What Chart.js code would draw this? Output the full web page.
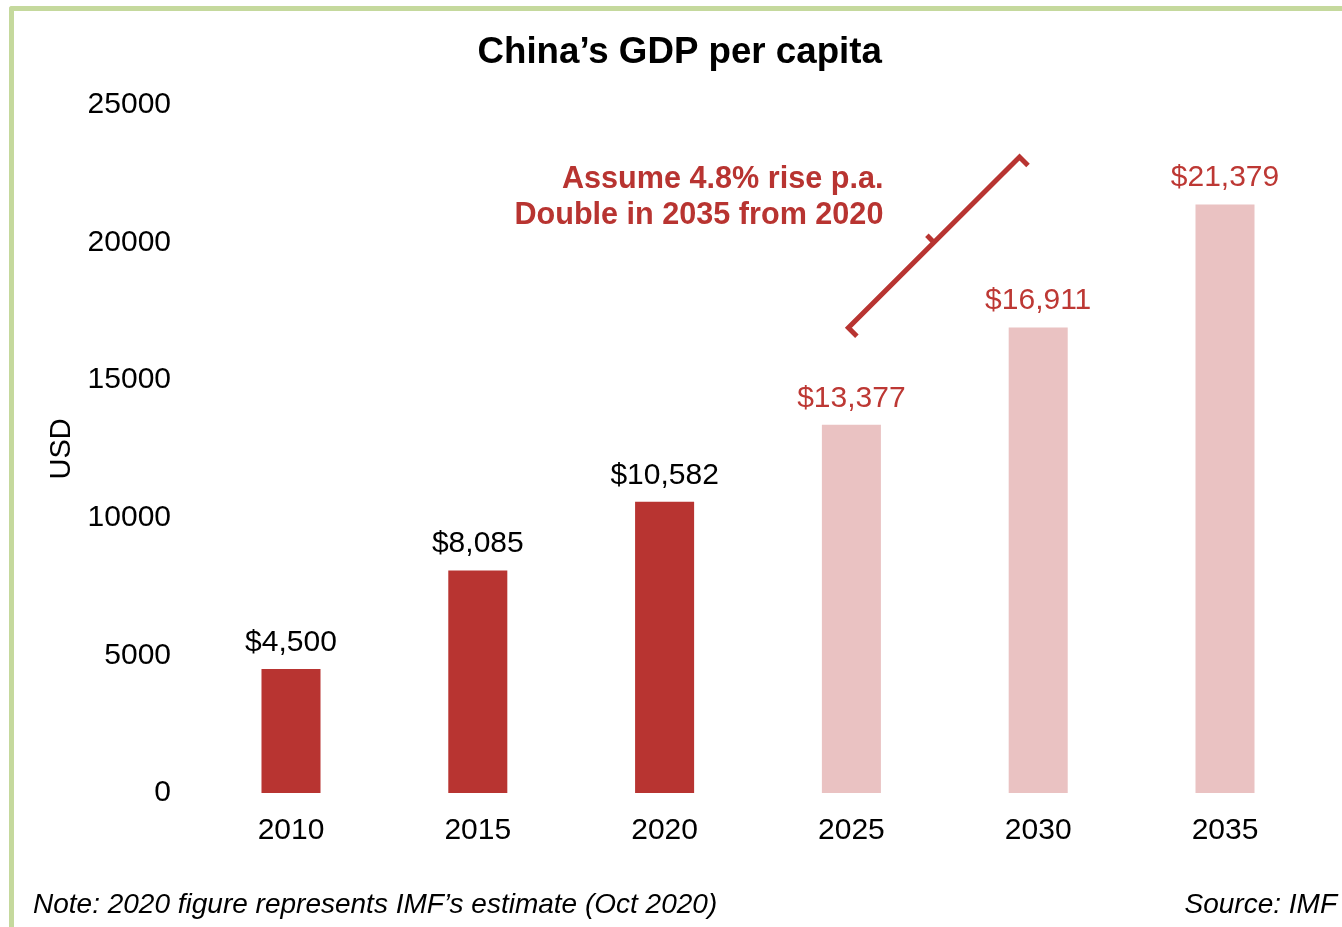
<!DOCTYPE html>
<html><head><meta charset="utf-8">
<script src="https://cdn.jsdelivr.net/npm/chart.js@4.4.1/dist/chart.umd.min.js"></script>
<style>
html,body{margin:0;padding:0;background:#fff;}
#wrap{position:relative;width:1342px;height:927px;overflow:hidden;}
#frame{position:absolute;left:9px;top:6px;width:1400px;height:1000px;border-top:5px solid #c5d99d;border-left:5px solid #c5d99d;border-top-left-radius:3px;}
canvas{position:absolute;left:0;top:0;}
.note{position:absolute;font-family:'Liberation Sans',Arial,sans-serif;font-style:italic;font-size:28px;color:#000;top:888px;line-height:32px;white-space:nowrap;}
</style></head>
<body><div id="wrap"><div id="frame"></div><canvas id="c" width="1342" height="927"></canvas>
<div class="note" style="left:33px">Note: 2020 figure represents IMF’s estimate (Oct 2020)</div>
<div class="note" style="right:5px">Source: IMF</div>
</div>
<script>
// ---- data ----
const years = ['2010', '2015', '2020', '2025', '2030', '2035'];
const gdpPerCapita = [4500, 8085, 10582, 13377, 16911, 21379];
const valueLabels = ['$4,500', '$8,085', '$10,582', '$13,377', '$16,911', '$21,379'];
const isProjection = [false, false, false, true, true, true];
const yTicks = [0, 5000, 10000, 15000, 20000, 25000];
const annotationLines = ['Assume 4.8% rise p.a.', 'Double in 2035 from 2020'];

const FONT = "'Liberation Sans', Arial, sans-serif";
const DARK = '#b83431';
const LIGHT = '#eac2c2';
const RED_TEXT = '#bd3834';

const labelsPlugin = {
  id: 'valueLabels',
  afterDatasetsDraw(chart) {
    const ctx = chart.ctx;
    const meta = chart.getDatasetMeta(0);
    ctx.save();
    ctx.font = '30px ' + FONT;
    ctx.textAlign = 'center';
    ctx.textBaseline = 'alphabetic';
    meta.data.forEach((bar, i) => {
      ctx.fillStyle = isProjection[i] ? RED_TEXT : '#000';
      ctx.fillText(valueLabels[i], bar.x, bar.y - 18);
    });
    // annotation
    const xs = chart.scales.x, ys = chart.scales.y;
    const x3 = xs.getPixelForValue(3), x4 = xs.getPixelForValue(4);
    ctx.font = 'bold 30.6px ' + FONT;
    ctx.textAlign = 'right';
    ctx.textBaseline = 'middle';
    ctx.fillStyle = DARK;
    ctx.fillText(annotationLines[0], x3 + 32, ys.getPixelForValue(22300));
    ctx.fillText(annotationLines[1], x3 + 32, ys.getPixelForValue(20990));
    // bracket
    const ax = x3 - 3, ay = ys.getPixelForValue(16900);
    const bx = x3 + (x4 - x3) * 0.9, by = ys.getPixelForValue(23100);
    const dx = bx - ax, dy = by - ay, len = Math.hypot(dx, dy);
    const nx = -dy / len, ny = dx / len;
    const px = nx > 0 ? nx : -nx, py = nx > 0 ? ny : -ny;
    ctx.strokeStyle = DARK;
    ctx.lineWidth = 5;
    ctx.lineCap = 'butt';
    ctx.lineJoin = 'miter';
    ctx.beginPath();
    ctx.moveTo(ax + px * 12, ay + py * 12);
    ctx.lineTo(ax, ay);
    ctx.lineTo(bx, by);
    ctx.lineTo(bx + px * 12, by + py * 12);
    ctx.stroke();
    const mx = (ax + bx) / 2, my = (ay + by) / 2;
    ctx.beginPath();
    ctx.moveTo(mx, my);
    ctx.lineTo(mx - px * 10, my - py * 10);
    ctx.stroke();
    ctx.restore();
  }
};

new Chart(document.getElementById('c'), {
  type: 'bar',
  data: {
    labels: years,
    datasets: [{
      data: gdpPerCapita,
      backgroundColor: isProjection.map(p => p ? LIGHT : DARK),
      borderWidth: 0,
      categoryPercentage: 1,
      barPercentage: 0.316
    }]
  },
  options: {
    responsive: false,
    animation: false,
    devicePixelRatio: 1,
    layout: { padding: { left: 41, right: 23.6, top: 0, bottom: 74 } },
    plugins: {
      legend: { display: false },
      tooltip: { enabled: false },
      title: {
        display: true,
        text: 'China’s GDP per capita',
        color: '#000',
        font: { family: FONT, size: 36.7, weight: 'bold' },
        padding: { top: 30.5, bottom: 30.2 }
      }
    },
    scales: {
      x: {
        grid: { display: false, drawTicks: false },
        border: { display: false },
        ticks: { color: '#000', font: { family: FONT, size: 30 }, padding: 20 },
        afterFit(s) { s.height = 60; }
      },
      y: {
        min: 0, max: 25000,
        grid: { display: false, drawTicks: false },
        border: { display: false },
        afterBuildTicks(s) { s.ticks = yTicks.map(v => ({ value: v })); },
        ticks: { color: '#000', font: { family: FONT, size: 30 }, padding: 26.6, callback: v => String(v) },
        title: { display: true, text: 'USD', color: '#000', font: { family: FONT, size: 29 }, padding: { top: 4, bottom: 4 } },
        afterFit(s) { s.width = 156.6; }
      }
    }
  },
  plugins: [labelsPlugin]
});
</script>
</body></html>
